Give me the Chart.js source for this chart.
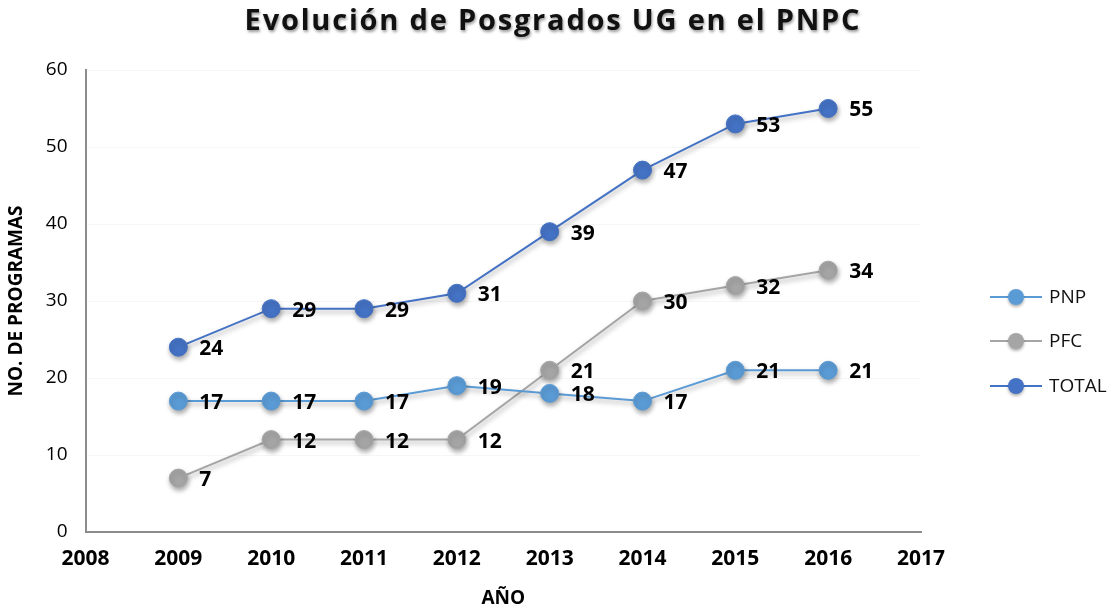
<!DOCTYPE html>
<html>
<head>
<meta charset="utf-8">
<script src="https://cdn.jsdelivr.net/npm/chart.js@4/dist/chart.umd.min.js"></script>
<style>
  html, body { margin: 0; padding: 0; background: #fff; }
  #wrap { width: 1114px; height: 611px; position: relative; }
</style>
</head>
<body>
<div id="wrap"><canvas id="c" width="1114" height="611"></canvas></div>
<script>
const TITLE = 'Evolución de Posgrados UG en el PNPC';
const X_TITLE = 'AÑO';
const Y_TITLE = 'NO. DE PROGRAMAS';
const years = [2009, 2010, 2011, 2012, 2013, 2014, 2015, 2016];
const seriesNames = ['PNP', 'PFC', 'TOTAL'];
const pnp = [17, 17, 17, 19, 18, 17, 21, 21];
const pfc = [7, 12, 12, 12, 21, 30, 32, 34];
const total = [24, 29, 29, 31, 39, 47, 53, 55];
const colors = ['#5B9BD5', '#A5A5A5', '#4472C4'];

function pts(arr) { return arr.map((v, i) => ({ x: years[i], y: v })); }

const shadowPlugin = {
  id: 'shadow',
  beforeDatasetDraw(chart) {
    const ctx = chart.ctx;
    ctx.save();
    ctx.shadowColor = 'rgba(0,0,0,0.35)';
    ctx.shadowBlur = 5;
    ctx.shadowOffsetX = 1;
    ctx.shadowOffsetY = 3;
  },
  afterDatasetDraw(chart) { chart.ctx.restore(); }
};

const labelPlugin = {
  id: 'valueLabels',
  afterDatasetsDraw(chart) {
    const ctx = chart.ctx;
    ctx.save();
    ctx.font = 'bold 21px "Open Sans"';
    ctx.fillStyle = '#000';
    ctx.textAlign = 'left';
    ctx.textBaseline = 'middle';
    chart.data.datasets.forEach((ds, di) => {
      const meta = chart.getDatasetMeta(di);
      meta.data.forEach((el, i) => {
        ctx.fillText(String(ds.data[i].y), el.x + 21, el.y + 2);
      });
    });
    ctx.restore();
  }
};

const titlePlugin = {
  id: 'fancyTitle',
  afterDraw(chart) {
    const ctx = chart.ctx;
    ctx.save();
    ctx.font = 'bold 29px "Open Sans"';
    ctx.letterSpacing = '1.8px';
    ctx.fillStyle = '#111';
    ctx.textAlign = 'center';
    ctx.textBaseline = 'middle';
    ctx.shadowColor = 'rgba(0,0,0,0.4)';
    ctx.shadowBlur = 3;
    ctx.shadowOffsetX = 1;
    ctx.shadowOffsetY = 2;
    ctx.fillText(TITLE, 553, 22);
    ctx.restore();
  }
};

const legendPlugin = {
  id: 'sideLegend',
  afterDraw(chart) {
    const ctx = chart.ctx;
    ctx.save();
    const ys = [297, 341, 386];
    chart.data.datasets.forEach((ds, i) => {
      const y = ys[i];
      ctx.strokeStyle = ds.borderColor;
      ctx.lineWidth = 2;
      ctx.beginPath();
      ctx.moveTo(990, y);
      ctx.lineTo(1042, y);
      ctx.stroke();
      ctx.shadowColor = 'rgba(0,0,0,0.3)';
      ctx.shadowBlur = 3;
      ctx.shadowOffsetY = 2;
      ctx.fillStyle = ds.pointBackgroundColor;
      ctx.beginPath();
      ctx.arc(1016, y, 8, 0, Math.PI * 2);
      ctx.fill();
      ctx.shadowColor = 'transparent';
      ctx.fillStyle = '#111';
      ctx.font = '19px "Open Sans"';
      ctx.textAlign = 'left';
      ctx.textBaseline = 'middle';
      ctx.fillText(ds.label, 1049, y + 1);
    });
    ctx.restore();
  }
};

const datasets = [pnp, pfc, total].map((arr, i) => ({
  label: seriesNames[i],
  data: pts(arr),
  borderColor: colors[i],
  backgroundColor: colors[i],
  pointBackgroundColor: colors[i],
  pointBorderColor: colors[i],
  pointRadius: 9,
  pointBorderWidth: 1,
  borderWidth: 2,
  tension: 0
}));

new Chart(document.getElementById('c'), {
  type: 'line',
  data: { datasets },
  plugins: [shadowPlugin, labelPlugin, titlePlugin, legendPlugin],
  options: {
    responsive: false,
    animation: false,
    layout: { padding: { top: 70, right: 193, bottom: 1, left: 5 } },
    plugins: {
      legend: { display: false },
      title: { display: false },
      tooltip: { enabled: false }
    },
    scales: {
      x: {
        type: 'linear',
        min: 2008,
        max: 2017,
        ticks: {
          stepSize: 1,
          padding: 14,
          color: '#000',
          font: { family: 'Open Sans', size: 21, weight: 'bold' },
          callback: v => String(v)
        },
        grid: { display: false, drawTicks: false },
        border: { display: true, color: '#8c8c8c', width: 2 },
        title: {
          display: true,
          text: X_TITLE,
          color: '#000',
          font: { family: 'Open Sans', size: 19, weight: 'bold' },
          padding: { top: 2, bottom: 0 }
        }
      },
      y: {
        min: 0,
        max: 60,
        ticks: {
          stepSize: 10,
          padding: 18,
          color: '#000',
          font: { family: 'Open Sans', size: 19 }
        },
        grid: { color: '#f6f6f6', drawTicks: false },
        border: { display: true, color: '#8c8c8c', width: 2 },
        title: {
          display: true,
          text: Y_TITLE,
          color: '#000',
          font: { family: 'Open Sans', size: 19, weight: 'bold' },
          padding: { top: 0, bottom: 0 }
        }
      }
    }
  }
});
</script>
</body>
</html>
